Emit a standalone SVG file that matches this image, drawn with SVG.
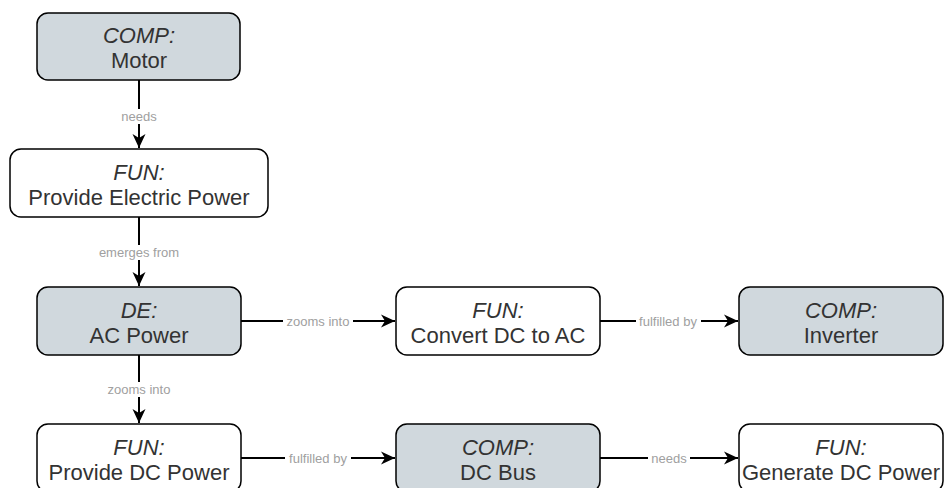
<svg xmlns="http://www.w3.org/2000/svg" width="944" height="488" viewBox="0 0 944 488">
<style>
.box{stroke:#000;stroke-width:1.5;}
.comp{fill:#d0d8dd;}
.fun{fill:#fff;}
.t{font-family:"Liberation Sans",Arial,sans-serif;font-size:22px;fill:#333;text-anchor:middle;}
.i{font-style:italic;}
.e{stroke:#000;stroke-width:2;fill:none;}
.lb{font-family:"Liberation Sans",Arial,sans-serif;font-size:13px;fill:#a0a0a0;text-anchor:middle;}
.bg{fill:#fff;}
</style>
<defs>
<marker id="ah" markerWidth="15" markerHeight="14" refX="14" refY="7" orient="auto" markerUnits="userSpaceOnUse">
<path d="M0,0.5 L14,7 L0,13.5 L4,7 Z" fill="#000"/>
</marker>
</defs>
<rect width="944" height="488" fill="#fff"/>
<g id="edges">
<line class="e" x1="139" y1="80" x2="139" y2="148" marker-end="url(#ah)"/>
<rect class="bg" x="119" y="109" width="40" height="15"/>
<text class="lb" x="139" y="121">needs</text>
<line class="e" x1="139" y1="217" x2="139" y2="286" marker-end="url(#ah)"/>
<rect class="bg" x="97" y="245" width="84" height="15"/>
<text class="lb" x="139" y="257">emerges from</text>
<line class="e" x1="139" y1="355" x2="139" y2="423" marker-end="url(#ah)"/>
<rect class="bg" x="105" y="382" width="68" height="15"/>
<text class="lb" x="139" y="394">zooms into</text>
<line class="e" x1="241" y1="321" x2="395" y2="321" marker-end="url(#ah)"/>
<rect class="bg" x="283" y="314" width="70" height="15"/>
<text class="lb" x="318" y="326">zooms into</text>
<line class="e" x1="600" y1="321" x2="738" y2="321" marker-end="url(#ah)"/>
<rect class="bg" x="636" y="314" width="65" height="15"/>
<text class="lb" x="668" y="326">fulfilled by</text>
<line class="e" x1="241" y1="458" x2="395" y2="458" marker-end="url(#ah)"/>
<rect class="bg" x="285" y="451" width="66" height="15"/>
<text class="lb" x="318" y="463">fulfilled by</text>
<line class="e" x1="600" y1="458" x2="738" y2="458" marker-end="url(#ah)"/>
<rect class="bg" x="648" y="451" width="42" height="15"/>
<text class="lb" x="669" y="463">needs</text>
</g>
<g id="motor">
<rect class="box comp" x="37" y="13" width="203" height="67" rx="11"/>
<text class="t i" x="139" y="43">COMP:</text>
<text class="t" x="139" y="68">Motor</text>
</g>
<g id="provide-electric-power">
<rect class="box fun" x="10" y="149" width="258" height="68" rx="11"/>
<text class="t i" x="139" y="179.5">FUN:</text>
<text class="t" x="139" y="204.5">Provide Electric Power</text>
</g>
<g id="ac-power">
<rect class="box comp" x="37" y="287" width="204" height="68" rx="11"/>
<text class="t i" x="139" y="317.5">DE:</text>
<text class="t" x="139" y="342.5">AC Power</text>
</g>
<g id="convert-dc-to-ac">
<rect class="box fun" x="396" y="287" width="204" height="68" rx="11"/>
<text class="t i" x="498" y="317.5">FUN:</text>
<text class="t" x="498" y="342.5">Convert DC to AC</text>
</g>
<g id="inverter">
<rect class="box comp" x="739" y="287" width="204" height="68" rx="11"/>
<text class="t i" x="841" y="317.5">COMP:</text>
<text class="t" x="841" y="342.5">Inverter</text>
</g>
<g id="provide-dc-power">
<rect class="box fun" x="37" y="424" width="204" height="68" rx="11"/>
<text class="t i" x="139" y="454.5">FUN:</text>
<text class="t" x="139" y="479.5">Provide DC Power</text>
</g>
<g id="dc-bus">
<rect class="box comp" x="396" y="424" width="204" height="68" rx="11"/>
<text class="t i" x="498" y="454.5">COMP:</text>
<text class="t" x="498" y="479.5">DC Bus</text>
</g>
<g id="generate-dc-power">
<rect class="box fun" x="739" y="424" width="204" height="68" rx="11"/>
<text class="t i" x="841" y="454.5">FUN:</text>
<text class="t" x="841" y="479.5">Generate DC Power</text>
</g>
</svg>
